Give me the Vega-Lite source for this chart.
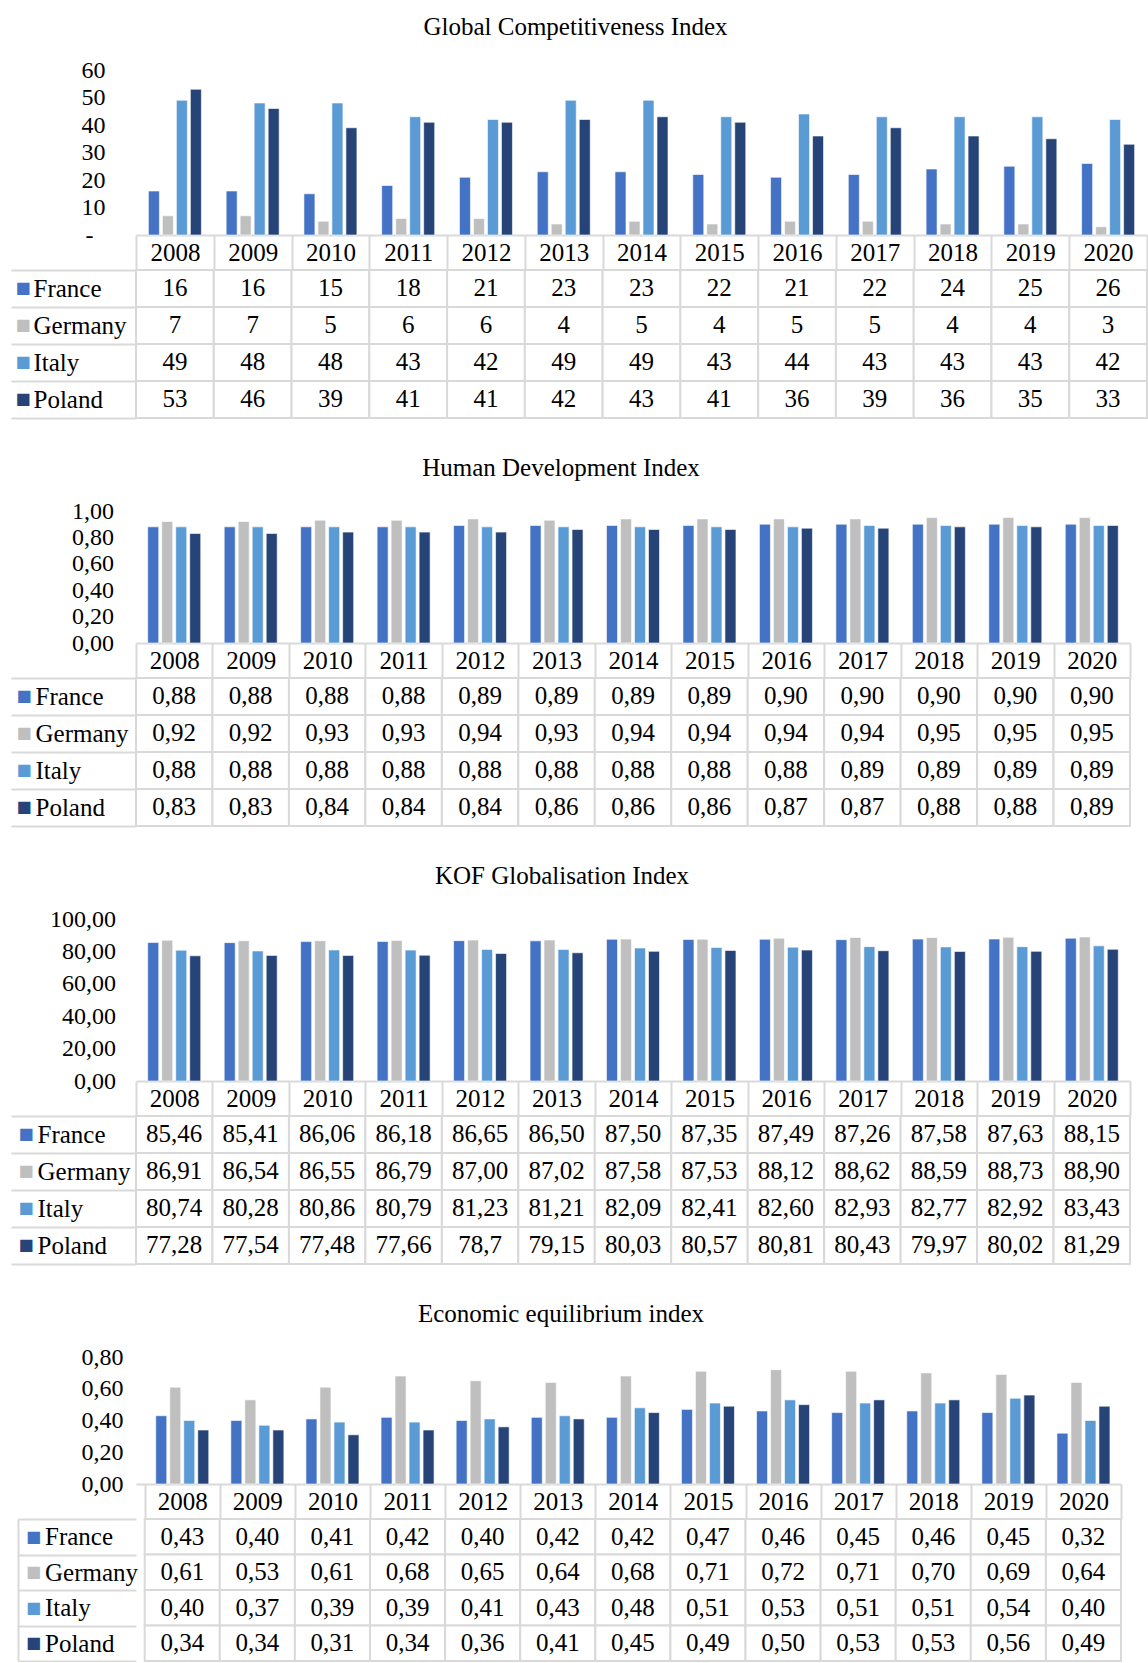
{
  "$schema": "https://vega.github.io/schema/vega-lite/v6.json",
  "background": "white",
  "padding": {"left": 10, "top": 14, "right": 0, "bottom": 0},
  "autosize": {"type": "pad"},
  "bounds": "flush",
  "spacing": 35,
  "config": {
    "view": {"stroke": null},
    "font": "Liberation Serif",
    "title": {"font": "Liberation Serif", "fontSize": 25, "fontWeight": "normal", "color": "black"}
  },
  "resolve": {"scale": {"x": "independent", "y": "independent", "color": "independent", "xOffset": "independent"}},
  "datasets": {
    "gci": [
      {"year":"2008","country":"France","value":16,"label":"16"},
      {"year":"2009","country":"France","value":16,"label":"16"},
      {"year":"2010","country":"France","value":15,"label":"15"},
      {"year":"2011","country":"France","value":18,"label":"18"},
      {"year":"2012","country":"France","value":21,"label":"21"},
      {"year":"2013","country":"France","value":23,"label":"23"},
      {"year":"2014","country":"France","value":23,"label":"23"},
      {"year":"2015","country":"France","value":22,"label":"22"},
      {"year":"2016","country":"France","value":21,"label":"21"},
      {"year":"2017","country":"France","value":22,"label":"22"},
      {"year":"2018","country":"France","value":24,"label":"24"},
      {"year":"2019","country":"France","value":25,"label":"25"},
      {"year":"2020","country":"France","value":26,"label":"26"},
      {"year":"2008","country":"Germany","value":7,"label":"7"},
      {"year":"2009","country":"Germany","value":7,"label":"7"},
      {"year":"2010","country":"Germany","value":5,"label":"5"},
      {"year":"2011","country":"Germany","value":6,"label":"6"},
      {"year":"2012","country":"Germany","value":6,"label":"6"},
      {"year":"2013","country":"Germany","value":4,"label":"4"},
      {"year":"2014","country":"Germany","value":5,"label":"5"},
      {"year":"2015","country":"Germany","value":4,"label":"4"},
      {"year":"2016","country":"Germany","value":5,"label":"5"},
      {"year":"2017","country":"Germany","value":5,"label":"5"},
      {"year":"2018","country":"Germany","value":4,"label":"4"},
      {"year":"2019","country":"Germany","value":4,"label":"4"},
      {"year":"2020","country":"Germany","value":3,"label":"3"},
      {"year":"2008","country":"Italy","value":49,"label":"49"},
      {"year":"2009","country":"Italy","value":48,"label":"48"},
      {"year":"2010","country":"Italy","value":48,"label":"48"},
      {"year":"2011","country":"Italy","value":43,"label":"43"},
      {"year":"2012","country":"Italy","value":42,"label":"42"},
      {"year":"2013","country":"Italy","value":49,"label":"49"},
      {"year":"2014","country":"Italy","value":49,"label":"49"},
      {"year":"2015","country":"Italy","value":43,"label":"43"},
      {"year":"2016","country":"Italy","value":44,"label":"44"},
      {"year":"2017","country":"Italy","value":43,"label":"43"},
      {"year":"2018","country":"Italy","value":43,"label":"43"},
      {"year":"2019","country":"Italy","value":43,"label":"43"},
      {"year":"2020","country":"Italy","value":42,"label":"42"},
      {"year":"2008","country":"Poland","value":53,"label":"53"},
      {"year":"2009","country":"Poland","value":46,"label":"46"},
      {"year":"2010","country":"Poland","value":39,"label":"39"},
      {"year":"2011","country":"Poland","value":41,"label":"41"},
      {"year":"2012","country":"Poland","value":41,"label":"41"},
      {"year":"2013","country":"Poland","value":42,"label":"42"},
      {"year":"2014","country":"Poland","value":43,"label":"43"},
      {"year":"2015","country":"Poland","value":41,"label":"41"},
      {"year":"2016","country":"Poland","value":36,"label":"36"},
      {"year":"2017","country":"Poland","value":39,"label":"39"},
      {"year":"2018","country":"Poland","value":36,"label":"36"},
      {"year":"2019","country":"Poland","value":35,"label":"35"},
      {"year":"2020","country":"Poland","value":33,"label":"33"}
    ],
    "hdi": [
      {"year":"2008","country":"France","value":0.88,"label":"0,88"},
      {"year":"2009","country":"France","value":0.88,"label":"0,88"},
      {"year":"2010","country":"France","value":0.88,"label":"0,88"},
      {"year":"2011","country":"France","value":0.88,"label":"0,88"},
      {"year":"2012","country":"France","value":0.89,"label":"0,89"},
      {"year":"2013","country":"France","value":0.89,"label":"0,89"},
      {"year":"2014","country":"France","value":0.89,"label":"0,89"},
      {"year":"2015","country":"France","value":0.89,"label":"0,89"},
      {"year":"2016","country":"France","value":0.90,"label":"0,90"},
      {"year":"2017","country":"France","value":0.90,"label":"0,90"},
      {"year":"2018","country":"France","value":0.90,"label":"0,90"},
      {"year":"2019","country":"France","value":0.90,"label":"0,90"},
      {"year":"2020","country":"France","value":0.90,"label":"0,90"},
      {"year":"2008","country":"Germany","value":0.92,"label":"0,92"},
      {"year":"2009","country":"Germany","value":0.92,"label":"0,92"},
      {"year":"2010","country":"Germany","value":0.93,"label":"0,93"},
      {"year":"2011","country":"Germany","value":0.93,"label":"0,93"},
      {"year":"2012","country":"Germany","value":0.94,"label":"0,94"},
      {"year":"2013","country":"Germany","value":0.93,"label":"0,93"},
      {"year":"2014","country":"Germany","value":0.94,"label":"0,94"},
      {"year":"2015","country":"Germany","value":0.94,"label":"0,94"},
      {"year":"2016","country":"Germany","value":0.94,"label":"0,94"},
      {"year":"2017","country":"Germany","value":0.94,"label":"0,94"},
      {"year":"2018","country":"Germany","value":0.95,"label":"0,95"},
      {"year":"2019","country":"Germany","value":0.95,"label":"0,95"},
      {"year":"2020","country":"Germany","value":0.95,"label":"0,95"},
      {"year":"2008","country":"Italy","value":0.88,"label":"0,88"},
      {"year":"2009","country":"Italy","value":0.88,"label":"0,88"},
      {"year":"2010","country":"Italy","value":0.88,"label":"0,88"},
      {"year":"2011","country":"Italy","value":0.88,"label":"0,88"},
      {"year":"2012","country":"Italy","value":0.88,"label":"0,88"},
      {"year":"2013","country":"Italy","value":0.88,"label":"0,88"},
      {"year":"2014","country":"Italy","value":0.88,"label":"0,88"},
      {"year":"2015","country":"Italy","value":0.88,"label":"0,88"},
      {"year":"2016","country":"Italy","value":0.88,"label":"0,88"},
      {"year":"2017","country":"Italy","value":0.89,"label":"0,89"},
      {"year":"2018","country":"Italy","value":0.89,"label":"0,89"},
      {"year":"2019","country":"Italy","value":0.89,"label":"0,89"},
      {"year":"2020","country":"Italy","value":0.89,"label":"0,89"},
      {"year":"2008","country":"Poland","value":0.83,"label":"0,83"},
      {"year":"2009","country":"Poland","value":0.83,"label":"0,83"},
      {"year":"2010","country":"Poland","value":0.84,"label":"0,84"},
      {"year":"2011","country":"Poland","value":0.84,"label":"0,84"},
      {"year":"2012","country":"Poland","value":0.84,"label":"0,84"},
      {"year":"2013","country":"Poland","value":0.86,"label":"0,86"},
      {"year":"2014","country":"Poland","value":0.86,"label":"0,86"},
      {"year":"2015","country":"Poland","value":0.86,"label":"0,86"},
      {"year":"2016","country":"Poland","value":0.87,"label":"0,87"},
      {"year":"2017","country":"Poland","value":0.87,"label":"0,87"},
      {"year":"2018","country":"Poland","value":0.88,"label":"0,88"},
      {"year":"2019","country":"Poland","value":0.88,"label":"0,88"},
      {"year":"2020","country":"Poland","value":0.89,"label":"0,89"}
    ],
    "kof": [
      {"year":"2008","country":"France","value":85.46,"label":"85,46"},
      {"year":"2009","country":"France","value":85.41,"label":"85,41"},
      {"year":"2010","country":"France","value":86.06,"label":"86,06"},
      {"year":"2011","country":"France","value":86.18,"label":"86,18"},
      {"year":"2012","country":"France","value":86.65,"label":"86,65"},
      {"year":"2013","country":"France","value":86.50,"label":"86,50"},
      {"year":"2014","country":"France","value":87.50,"label":"87,50"},
      {"year":"2015","country":"France","value":87.35,"label":"87,35"},
      {"year":"2016","country":"France","value":87.49,"label":"87,49"},
      {"year":"2017","country":"France","value":87.26,"label":"87,26"},
      {"year":"2018","country":"France","value":87.58,"label":"87,58"},
      {"year":"2019","country":"France","value":87.63,"label":"87,63"},
      {"year":"2020","country":"France","value":88.15,"label":"88,15"},
      {"year":"2008","country":"Germany","value":86.91,"label":"86,91"},
      {"year":"2009","country":"Germany","value":86.54,"label":"86,54"},
      {"year":"2010","country":"Germany","value":86.55,"label":"86,55"},
      {"year":"2011","country":"Germany","value":86.79,"label":"86,79"},
      {"year":"2012","country":"Germany","value":87.00,"label":"87,00"},
      {"year":"2013","country":"Germany","value":87.02,"label":"87,02"},
      {"year":"2014","country":"Germany","value":87.58,"label":"87,58"},
      {"year":"2015","country":"Germany","value":87.53,"label":"87,53"},
      {"year":"2016","country":"Germany","value":88.12,"label":"88,12"},
      {"year":"2017","country":"Germany","value":88.62,"label":"88,62"},
      {"year":"2018","country":"Germany","value":88.59,"label":"88,59"},
      {"year":"2019","country":"Germany","value":88.73,"label":"88,73"},
      {"year":"2020","country":"Germany","value":88.90,"label":"88,90"},
      {"year":"2008","country":"Italy","value":80.74,"label":"80,74"},
      {"year":"2009","country":"Italy","value":80.28,"label":"80,28"},
      {"year":"2010","country":"Italy","value":80.86,"label":"80,86"},
      {"year":"2011","country":"Italy","value":80.79,"label":"80,79"},
      {"year":"2012","country":"Italy","value":81.23,"label":"81,23"},
      {"year":"2013","country":"Italy","value":81.21,"label":"81,21"},
      {"year":"2014","country":"Italy","value":82.09,"label":"82,09"},
      {"year":"2015","country":"Italy","value":82.41,"label":"82,41"},
      {"year":"2016","country":"Italy","value":82.60,"label":"82,60"},
      {"year":"2017","country":"Italy","value":82.93,"label":"82,93"},
      {"year":"2018","country":"Italy","value":82.77,"label":"82,77"},
      {"year":"2019","country":"Italy","value":82.92,"label":"82,92"},
      {"year":"2020","country":"Italy","value":83.43,"label":"83,43"},
      {"year":"2008","country":"Poland","value":77.28,"label":"77,28"},
      {"year":"2009","country":"Poland","value":77.54,"label":"77,54"},
      {"year":"2010","country":"Poland","value":77.48,"label":"77,48"},
      {"year":"2011","country":"Poland","value":77.66,"label":"77,66"},
      {"year":"2012","country":"Poland","value":78.7,"label":"78,7"},
      {"year":"2013","country":"Poland","value":79.15,"label":"79,15"},
      {"year":"2014","country":"Poland","value":80.03,"label":"80,03"},
      {"year":"2015","country":"Poland","value":80.57,"label":"80,57"},
      {"year":"2016","country":"Poland","value":80.81,"label":"80,81"},
      {"year":"2017","country":"Poland","value":80.43,"label":"80,43"},
      {"year":"2018","country":"Poland","value":79.97,"label":"79,97"},
      {"year":"2019","country":"Poland","value":80.02,"label":"80,02"},
      {"year":"2020","country":"Poland","value":81.29,"label":"81,29"}
    ],
    "eei": [
      {"year":"2008","country":"France","value":0.43,"label":"0,43"},
      {"year":"2009","country":"France","value":0.40,"label":"0,40"},
      {"year":"2010","country":"France","value":0.41,"label":"0,41"},
      {"year":"2011","country":"France","value":0.42,"label":"0,42"},
      {"year":"2012","country":"France","value":0.40,"label":"0,40"},
      {"year":"2013","country":"France","value":0.42,"label":"0,42"},
      {"year":"2014","country":"France","value":0.42,"label":"0,42"},
      {"year":"2015","country":"France","value":0.47,"label":"0,47"},
      {"year":"2016","country":"France","value":0.46,"label":"0,46"},
      {"year":"2017","country":"France","value":0.45,"label":"0,45"},
      {"year":"2018","country":"France","value":0.46,"label":"0,46"},
      {"year":"2019","country":"France","value":0.45,"label":"0,45"},
      {"year":"2020","country":"France","value":0.32,"label":"0,32"},
      {"year":"2008","country":"Germany","value":0.61,"label":"0,61"},
      {"year":"2009","country":"Germany","value":0.53,"label":"0,53"},
      {"year":"2010","country":"Germany","value":0.61,"label":"0,61"},
      {"year":"2011","country":"Germany","value":0.68,"label":"0,68"},
      {"year":"2012","country":"Germany","value":0.65,"label":"0,65"},
      {"year":"2013","country":"Germany","value":0.64,"label":"0,64"},
      {"year":"2014","country":"Germany","value":0.68,"label":"0,68"},
      {"year":"2015","country":"Germany","value":0.71,"label":"0,71"},
      {"year":"2016","country":"Germany","value":0.72,"label":"0,72"},
      {"year":"2017","country":"Germany","value":0.71,"label":"0,71"},
      {"year":"2018","country":"Germany","value":0.70,"label":"0,70"},
      {"year":"2019","country":"Germany","value":0.69,"label":"0,69"},
      {"year":"2020","country":"Germany","value":0.64,"label":"0,64"},
      {"year":"2008","country":"Italy","value":0.40,"label":"0,40"},
      {"year":"2009","country":"Italy","value":0.37,"label":"0,37"},
      {"year":"2010","country":"Italy","value":0.39,"label":"0,39"},
      {"year":"2011","country":"Italy","value":0.39,"label":"0,39"},
      {"year":"2012","country":"Italy","value":0.41,"label":"0,41"},
      {"year":"2013","country":"Italy","value":0.43,"label":"0,43"},
      {"year":"2014","country":"Italy","value":0.48,"label":"0,48"},
      {"year":"2015","country":"Italy","value":0.51,"label":"0,51"},
      {"year":"2016","country":"Italy","value":0.53,"label":"0,53"},
      {"year":"2017","country":"Italy","value":0.51,"label":"0,51"},
      {"year":"2018","country":"Italy","value":0.51,"label":"0,51"},
      {"year":"2019","country":"Italy","value":0.54,"label":"0,54"},
      {"year":"2020","country":"Italy","value":0.40,"label":"0,40"},
      {"year":"2008","country":"Poland","value":0.34,"label":"0,34"},
      {"year":"2009","country":"Poland","value":0.34,"label":"0,34"},
      {"year":"2010","country":"Poland","value":0.31,"label":"0,31"},
      {"year":"2011","country":"Poland","value":0.34,"label":"0,34"},
      {"year":"2012","country":"Poland","value":0.36,"label":"0,36"},
      {"year":"2013","country":"Poland","value":0.41,"label":"0,41"},
      {"year":"2014","country":"Poland","value":0.45,"label":"0,45"},
      {"year":"2015","country":"Poland","value":0.49,"label":"0,49"},
      {"year":"2016","country":"Poland","value":0.50,"label":"0,50"},
      {"year":"2017","country":"Poland","value":0.53,"label":"0,53"},
      {"year":"2018","country":"Poland","value":0.53,"label":"0,53"},
      {"year":"2019","country":"Poland","value":0.56,"label":"0,56"},
      {"year":"2020","country":"Poland","value":0.49,"label":"0,49"}
    ]
  },
  "vconcat": [
    {
      "data": {"name": "gci"},
      "title": {"text": "Global Competitiveness Index", "anchor": "middle", "frame": "group", "dx": -66, "offset": 18.5},
      "width": 1011,
      "height": 165,
      "mark": {"type": "bar", "stroke": "white", "strokeWidth": 0.6},
      "encoding": {
        "x": {"field": "year", "type": "nominal", "scale": {"type": "band", "paddingInner": 0, "paddingOuter": 0},
          "axis": {"orient": "bottom", "title": null, "domain": true, "domainColor": "#d9d9d9", "domainWidth": 2, "ticks": true, "tickBand": "extent", "tickSize": 35, "tickColor": "#d9d9d9", "tickWidth": 2, "labelPadding": -17.5, "labelBaseline": "middle", "labelAngle": 0, "labelFontSize": 25, "labelFont": "Liberation Serif", "labelColor": "black", "labelOverlap": false, "labelBound": false, "labelFlush": false}},
        "xOffset": {"field": "country", "type": "nominal", "scale": {"domain": ["France", "Germany", "Italy", "Poland"], "paddingInner": 0.214, "paddingOuter": 0.885}},
        "y": {"field": "value", "type": "quantitative", "scale": {"domain": [0, 60], "nice": false},
          "axis": {"title": null, "domain": false, "ticks": false, "grid": false, "values": [0, 10, 20, 30, 40, 50, 60], "labelExpr": "datum.value == 0 ? '-' : datum.label", "labelPadding": {"condition": {"test": "datum.value == 0", "value": 43}, "value": 31}, "labelFontSize": 24, "labelFont": "Liberation Serif", "labelColor": "black", "labelFlush": false, "labelOverlap": false, "labelBaseline": "middle"}},
        "color": {"field": "country", "type": "nominal", "scale": {"domain": ["France", "Germany", "Italy", "Poland"], "range": ["#4472C4", "#BFBFBF", "#5B9BD5", "#264478"]}, "legend": null}
      }
    },
    {
      "data": {"name": "gci"},
      "width": 1011,
      "height": 206,
      "resolve": {"axis": {"y": "independent"}},
      "layer": [
        {
          "mark": {"type": "rect", "fill": "white", "stroke": "#d9d9d9", "strokeWidth": 2},
          "encoding": {
            "x": {"field": "year", "type": "nominal", "scale": {"type": "band", "paddingInner": 0, "paddingOuter": 0}, "axis": null},
            "y": {"field": "country", "type": "nominal", "scale": {"type": "band", "domain": ["France", "Germany", "Italy", "Poland"], "paddingInner": 0, "paddingOuter": 0.784, "align": 0},
              "axis": {"orient": "left", "title": null, "domain": false, "ticks": false, "grid": false, "labelExpr": "'■'", "labelAlign": "left", "labelBaseline": "middle", "labelPadding": 121, "labelFontSize": 16, "labelFont": "DejaVu Sans", "labelOverlap": false,
                "labelColor": {"condition": [{"test": "datum.value === 'France'", "value": "#4472C4"}, {"test": "datum.value === 'Germany'", "value": "#BFBFBF"}, {"test": "datum.value === 'Italy'", "value": "#5B9BD5"}], "value": "#264478"}}}
          }
        },
        {
          "mark": {"type": "text", "fontSize": 25, "font": "Liberation Serif", "color": "black", "baseline": "middle"},
          "encoding": {
            "x": {"field": "year", "type": "nominal", "scale": {"type": "band", "paddingInner": 0, "paddingOuter": 0}, "axis": null},
            "y": {"field": "country", "type": "nominal", "scale": {"type": "band", "domain": ["France", "Germany", "Italy", "Poland"], "paddingInner": 0, "paddingOuter": 0.784, "align": 0},
              "axis": {"orient": "left", "title": null, "domain": false, "ticks": true, "tickBand": "extent", "tickSize": 125, "tickColor": "#d9d9d9", "tickWidth": 2, "grid": false, "labelAlign": "left", "labelBaseline": "middle", "labelPadding": -22, "labelFontSize": 25, "labelFont": "Liberation Serif", "labelColor": "black", "labelOverlap": false}},
            "text": {"field": "label"}
          }
        }
      ]
    },
    {
      "data": {"name": "hdi"},
      "title": {"text": "Human Development Index", "anchor": "middle", "frame": "group", "dx": -72, "offset": 18.5},
      "width": 994,
      "height": 132,
      "mark": {"type": "bar", "stroke": "white", "strokeWidth": 0.6},
      "encoding": {
        "x": {"field": "year", "type": "nominal", "scale": {"type": "band", "paddingInner": 0, "paddingOuter": 0},
          "axis": {"orient": "bottom", "title": null, "domain": true, "domainColor": "#d9d9d9", "domainWidth": 2, "ticks": true, "tickBand": "extent", "tickSize": 35, "tickColor": "#d9d9d9", "tickWidth": 2, "labelPadding": -17.5, "labelBaseline": "middle", "labelAngle": 0, "labelFontSize": 25, "labelFont": "Liberation Serif", "labelColor": "black", "labelOverlap": false, "labelBound": false, "labelFlush": false}},
        "xOffset": {"field": "country", "type": "nominal", "scale": {"domain": ["France", "Germany", "Italy", "Poland"], "paddingInner": 0.214, "paddingOuter": 0.838}},
        "y": {"field": "value", "type": "quantitative", "scale": {"domain": [0, 1], "nice": false},
          "axis": {"title": null, "domain": false, "ticks": false, "grid": false, "values": [0, 0.2, 0.4, 0.6, 0.8, 1], "labelExpr": "replace(format(datum.value, '.2f'), '.', ',')", "labelPadding": 22.5, "labelFontSize": 24, "labelFont": "Liberation Serif", "labelColor": "black", "labelFlush": false, "labelOverlap": false, "labelBaseline": "middle"}},
        "color": {"field": "country", "type": "nominal", "scale": {"domain": ["France", "Germany", "Italy", "Poland"], "range": ["#4472C4", "#BFBFBF", "#5B9BD5", "#264478"]}, "legend": null}
      }
    },
    {
      "data": {"name": "hdi"},
      "width": 994,
      "height": 206,
      "resolve": {"axis": {"y": "independent"}},
      "layer": [
        {
          "mark": {"type": "rect", "fill": "white", "stroke": "#d9d9d9", "strokeWidth": 2},
          "encoding": {
            "x": {"field": "year", "type": "nominal", "scale": {"type": "band", "paddingInner": 0, "paddingOuter": 0}, "axis": null},
            "y": {"field": "country", "type": "nominal", "scale": {"type": "band", "domain": ["France", "Germany", "Italy", "Poland"], "paddingInner": 0, "paddingOuter": 0.784, "align": 0},
              "axis": {"orient": "left", "title": null, "domain": false, "ticks": false, "grid": false, "labelExpr": "'■'", "labelAlign": "left", "labelBaseline": "middle", "labelPadding": 120, "labelFontSize": 16, "labelFont": "DejaVu Sans", "labelOverlap": false,
                "labelColor": {"condition": [{"test": "datum.value === 'France'", "value": "#4472C4"}, {"test": "datum.value === 'Germany'", "value": "#BFBFBF"}, {"test": "datum.value === 'Italy'", "value": "#5B9BD5"}], "value": "#264478"}}}
          }
        },
        {
          "mark": {"type": "text", "fontSize": 25, "font": "Liberation Serif", "color": "black", "baseline": "middle"},
          "encoding": {
            "x": {"field": "year", "type": "nominal", "scale": {"type": "band", "paddingInner": 0, "paddingOuter": 0}, "axis": null},
            "y": {"field": "country", "type": "nominal", "scale": {"type": "band", "domain": ["France", "Germany", "Italy", "Poland"], "paddingInner": 0, "paddingOuter": 0.784, "align": 0},
              "axis": {"orient": "left", "title": null, "domain": false, "ticks": true, "tickBand": "extent", "tickSize": 125, "tickColor": "#d9d9d9", "tickWidth": 2, "grid": false, "labelAlign": "left", "labelBaseline": "middle", "labelPadding": -24, "labelFontSize": 25, "labelFont": "Liberation Serif", "labelColor": "black", "labelOverlap": false}},
            "text": {"field": "label"}
          }
        }
      ]
    },
    {
      "data": {"name": "kof"},
      "title": {"text": "KOF Globalisation Index", "anchor": "middle", "frame": "group", "dx": -71, "offset": 18.5},
      "width": 994,
      "height": 162,
      "mark": {"type": "bar", "stroke": "white", "strokeWidth": 0.6},
      "encoding": {
        "x": {"field": "year", "type": "nominal", "scale": {"type": "band", "paddingInner": 0, "paddingOuter": 0},
          "axis": {"orient": "bottom", "title": null, "domain": true, "domainColor": "#d9d9d9", "domainWidth": 2, "ticks": true, "tickBand": "extent", "tickSize": 35, "tickColor": "#d9d9d9", "tickWidth": 2, "labelPadding": -17.5, "labelBaseline": "middle", "labelAngle": 0, "labelFontSize": 25, "labelFont": "Liberation Serif", "labelColor": "black", "labelOverlap": false, "labelBound": false, "labelFlush": false}},
        "xOffset": {"field": "country", "type": "nominal", "scale": {"domain": ["France", "Germany", "Italy", "Poland"], "paddingInner": 0.214, "paddingOuter": 0.838}},
        "y": {"field": "value", "type": "quantitative", "scale": {"domain": [0, 100], "nice": false},
          "axis": {"title": null, "domain": false, "ticks": false, "grid": false, "values": [0, 20, 40, 60, 80, 100], "labelExpr": "replace(format(datum.value, '.2f'), '.', ',')", "labelPadding": 20.5, "labelFontSize": 24, "labelFont": "Liberation Serif", "labelColor": "black", "labelFlush": false, "labelOverlap": false, "labelBaseline": "middle"}},
        "color": {"field": "country", "type": "nominal", "scale": {"domain": ["France", "Germany", "Italy", "Poland"], "range": ["#4472C4", "#BFBFBF", "#5B9BD5", "#264478"]}, "legend": null}
      }
    },
    {
      "data": {"name": "kof"},
      "width": 994,
      "height": 206,
      "resolve": {"axis": {"y": "independent"}},
      "layer": [
        {
          "mark": {"type": "rect", "fill": "white", "stroke": "#d9d9d9", "strokeWidth": 2},
          "encoding": {
            "x": {"field": "year", "type": "nominal", "scale": {"type": "band", "paddingInner": 0, "paddingOuter": 0}, "axis": null},
            "y": {"field": "country", "type": "nominal", "scale": {"type": "band", "domain": ["France", "Germany", "Italy", "Poland"], "paddingInner": 0, "paddingOuter": 0.784, "align": 0},
              "axis": {"orient": "left", "title": null, "domain": false, "ticks": false, "grid": false, "labelExpr": "'■'", "labelAlign": "left", "labelBaseline": "middle", "labelPadding": 118, "labelFontSize": 16, "labelFont": "DejaVu Sans", "labelOverlap": false,
                "labelColor": {"condition": [{"test": "datum.value === 'France'", "value": "#4472C4"}, {"test": "datum.value === 'Germany'", "value": "#BFBFBF"}, {"test": "datum.value === 'Italy'", "value": "#5B9BD5"}], "value": "#264478"}}}
          }
        },
        {
          "mark": {"type": "text", "fontSize": 25, "font": "Liberation Serif", "color": "black", "baseline": "middle"},
          "encoding": {
            "x": {"field": "year", "type": "nominal", "scale": {"type": "band", "paddingInner": 0, "paddingOuter": 0}, "axis": null},
            "y": {"field": "country", "type": "nominal", "scale": {"type": "band", "domain": ["France", "Germany", "Italy", "Poland"], "paddingInner": 0, "paddingOuter": 0.784, "align": 0},
              "axis": {"orient": "left", "title": null, "domain": false, "ticks": true, "tickBand": "extent", "tickSize": 125, "tickColor": "#d9d9d9", "tickWidth": 2, "grid": false, "labelAlign": "left", "labelBaseline": "middle", "labelPadding": -26, "labelFontSize": 25, "labelFont": "Liberation Serif", "labelColor": "black", "labelOverlap": false}},
            "text": {"field": "label"}
          }
        }
      ]
    },
    {
      "data": {"name": "eei"},
      "title": {"text": "Economic equilibrium index", "anchor": "middle", "frame": "group", "dx": -67.5, "offset": 18.5},
      "width": 985,
      "height": 127,
      "mark": {"type": "bar", "stroke": "white", "strokeWidth": 0.6},
      "encoding": {
        "x": {"field": "year", "type": "nominal", "scale": {"type": "band", "paddingInner": 0, "paddingOuter": 0.058, "align": 1},
          "axis": {"orient": "bottom", "title": null, "domain": true, "domainColor": "#d9d9d9", "domainWidth": 2, "ticks": true, "tickBand": "extent", "tickSize": 35, "tickColor": "#d9d9d9", "tickWidth": 2, "labelPadding": -17.5, "labelBaseline": "middle", "labelAngle": 0, "labelFontSize": 25, "labelFont": "Liberation Serif", "labelColor": "black", "labelOverlap": false, "labelBound": false, "labelFlush": false}},
        "xOffset": {"field": "country", "type": "nominal", "scale": {"domain": ["France", "Germany", "Italy", "Poland"], "paddingInner": 0.214, "paddingOuter": 0.789}},
        "y": {"field": "value", "type": "quantitative", "scale": {"domain": [0, 0.8], "nice": false},
          "axis": {"title": null, "domain": false, "ticks": false, "grid": false, "values": [0, 0.2, 0.4, 0.6, 0.8], "labelExpr": "replace(format(datum.value, '.2f'), '.', ',')", "labelPadding": 13, "labelFontSize": 24, "labelFont": "Liberation Serif", "labelColor": "black", "labelFlush": false, "labelOverlap": false, "labelBaseline": "middle"}},
        "color": {"field": "country", "type": "nominal", "scale": {"domain": ["France", "Germany", "Italy", "Poland"], "range": ["#4472C4", "#BFBFBF", "#5B9BD5", "#264478"]}, "legend": null}
      }
    },
    {
      "data": {"name": "eei"},
      "width": 985,
      "height": 142,
      "resolve": {"axis": {"y": "independent"}},
      "layer": [
        {
          "mark": {"type": "rect", "fill": "white", "stroke": "#d9d9d9", "strokeWidth": 2},
          "encoding": {
            "x": {"field": "year", "type": "nominal", "scale": {"type": "band", "paddingInner": 0, "paddingOuter": 0.058, "align": 1}, "axis": null},
            "y": {"field": "country", "type": "nominal", "scale": {"type": "band", "domain": ["France", "Germany", "Italy", "Poland"], "paddingInner": 0, "paddingOuter": 0},
              "axis": {"orient": "left", "offset": 118, "title": null, "domain": true, "domainColor": "#d9d9d9", "domainWidth": 2, "ticks": false, "grid": false, "labelExpr": "'■'", "labelAlign": "left", "labelBaseline": "middle", "labelPadding": -7.5, "labelFontSize": 16, "labelFont": "DejaVu Sans", "labelOverlap": false,
                "labelColor": {"condition": [{"test": "datum.value === 'France'", "value": "#4472C4"}, {"test": "datum.value === 'Germany'", "value": "#BFBFBF"}, {"test": "datum.value === 'Italy'", "value": "#5B9BD5"}], "value": "#264478"}}}
          }
        },
        {
          "mark": {"type": "text", "fontSize": 25, "font": "Liberation Serif", "color": "black", "baseline": "middle"},
          "encoding": {
            "x": {"field": "year", "type": "nominal", "scale": {"type": "band", "paddingInner": 0, "paddingOuter": 0.058, "align": 1}, "axis": null},
            "y": {"field": "country", "type": "nominal", "scale": {"type": "band", "domain": ["France", "Germany", "Italy", "Poland"], "paddingInner": 0, "paddingOuter": 0},
              "axis": {"orient": "left", "title": null, "domain": false, "ticks": true, "tickBand": "extent", "tickSize": 118, "tickColor": "#d9d9d9", "tickWidth": 2, "grid": false, "labelAlign": "left", "labelBaseline": "middle", "labelPadding": -26.5, "labelFontSize": 25, "labelFont": "Liberation Serif", "labelColor": "black", "labelOverlap": false}},
            "text": {"field": "label"}
          }
        }
      ]
    }
  ]
}
